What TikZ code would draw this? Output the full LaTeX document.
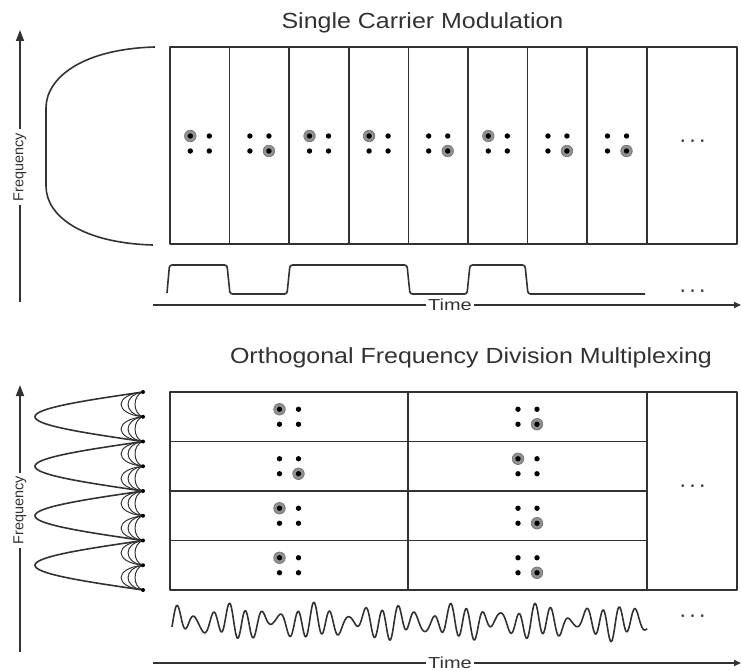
\documentclass[tikz,border=0pt]{standalone}
\usepackage{fontspec}
\setmainfont{Liberation Sans}
\usetikzlibrary{arrows.meta}

\definecolor{ink}{RGB}{50,50,50}
\definecolor{halo}{RGB}{145,145,145}

% 2x2 constellation: centre (#1,#2), highlighted point at offset signs (#3,#4)
\newcommand\constel[4]{%
  \fill[halo, draw=ink!70, line width=0.6bp] ({#1+#3*9.5},{#2+#4*7.5}) circle (5.8);
  \foreach \sx in {-1,1}{\foreach \sy in {-1,1}{%
    \fill[black] ({#1+\sx*9.5},{#2+\sy*7.5}) circle (2.7);}}%
}

\begin{document}
\begin{tikzpicture}[x=1bp,y=-1bp,line join=round,
  frame/.style={draw=ink, line width=1.6bp},
  wave/.style={draw=ink, line width=1.6bp},
  thin/.style={draw=ink, line width=1bp},
  axis/.style={draw=ink, line width=1.6bp, -{Triangle[length=11bp,width=8bp]}},
  taxis/.style={draw=ink, line width=1.6bp, -{Triangle[length=7bp,width=6bp]}},
  title/.style={text=ink, font=\fontsize{22}{26}\selectfont, inner sep=0pt, anchor=base},
  tlabel/.style={text=ink, fill=white, font=\fontsize{16}{19}\selectfont, inner sep=2.5bp},
  flabel/.style={text=ink, fill=white, font=\fontsize{14.5}{17}\selectfont, inner sep=3.5bp, rotate=90},
  more/.style={text=ink, font=\fontsize{16}{18}\selectfont\bfseries, inner sep=0pt}]

\useasboundingbox (0,0) rectangle (741,671);

% ---------------- Single carrier modulation ----------------
\node[title] (sctitle) at (422.5,29) {\scalebox{1.14}[1]{Single Carrier Modulation}};

% frequency axis
\coordinate (fbot1) at (20,302);
\coordinate (ftop1) at (20,30);
\draw[axis] (fbot1) -- node[flabel, pos=0.496] (freq1) {Frequency} (ftop1);

% spectrum of the single wide carrier
\draw[wave] (155,47) .. controls (82,49) and (46,78) .. (46,108) -- (46,186)
  .. controls (46,216) and (82,243) .. (153,245);

% time slots
\draw[frame] (170,47) rectangle (737,244);
\foreach \i in {1,...,8} \draw[frame] ({170+59.6*\i},47) -- ({170+59.6*\i},244);

% one symbol per slot
\foreach \i/\hx/\hy in {0/-1/-1,1/1/1,2/-1/-1,3/-1/-1,4/1/1,5/-1/-1,6/1/1,7/1/1}
  \constel{170+59.6*(\i+0.5)}{143.5}{\hx}{\hy};
\node[more] (sc-more) at (693,143) {· · ·};

% square-ish baseband waveform
\draw[wave, rounded corners=2.5bp] (167,293) -- (169.5,265) -- (227,265) -- (230,294)
  -- (287,294) -- (290,265) -- (407,265) -- (410,294) -- (467,294) -- (470,265)
  -- (525,265) -- (528,294) -- (645,294);
\node[more] (sc-wmore) at (693,293) {· · ·};

% time axis
\coordinate (tl1) at (153,305);
\coordinate (tr1) at (741,305);
\draw[taxis] (tl1) -- node[tlabel, pos=0.505] (time1) {\scalebox{1.25}[1]{Time}} (tr1);

% ---------------- OFDM ----------------
\node[title] (oftitle) at (471,363) {\scalebox{1.14}[1]{Orthogonal Frequency Division Multiplexing}};

\coordinate (fbot2) at (20,652);
\coordinate (ftop2) at (20,385);
\draw[axis] (fbot2) -- node[flabel, pos=0.53] (freq2) {Frequency} (ftop2);

% sub-carrier spectra: main lobes
\foreach \k in {0,...,3}
  \draw[wave] plot[domain=-1:1, samples=61, smooth]
    ({143-108*cos(90*\x)}, {392+49.5*\k+24.75*(\x+1)});
% overlapping side lobes
\foreach \j in {0,...,7}{
  \foreach \d in {8,15,22}{
    \draw[thin] (143,{392+24.75*\j}) .. controls ({143-1.33*\d},{395+24.75*\j})
      and ({143-1.33*\d},{413.75+24.75*\j}) .. (143,{416.75+24.75*\j});
  }
}
\foreach \j in {0,...,8} \fill[black] (143,{392+24.75*\j}) circle (2);

% time/frequency grid
\draw[frame] (170,392) rectangle (737,590);
\draw[frame] (408,392) -- (408,590);
\draw[frame] (647,392) -- (647,590);
\foreach \k in {1,2,3} \draw[frame] (170,{392+49.5*\k}) -- (647,{392+49.5*\k});

\foreach \k/\hx/\hy in {0/-1/-1,1/1/1,2/-1/-1,3/-1/-1}
  \constel{289}{416.75+49.5*\k}{\hx}{\hy};
\foreach \k/\hx/\hy in {0/1/1,1/-1/-1,2/1/1,3/1/1}
  \constel{527.5}{416.75+49.5*\k}{\hx}{\hy};
\node[more] (of-more) at (693,488) {· · ·};

% multicarrier time signal (sum of a few sub-carrier tones)
\draw[wave] plot[domain=0:475, samples=600, smooth]
  ({172+\x}, {622 - (11*sin(21.2*\x-40) + 5*sin(26*\x+10) + 4*sin(8*\x+20))});
\node[more] (of-wmore) at (693,618) {· · ·};

\coordinate (tl2) at (153,663);
\coordinate (tr2) at (741,663);
\draw[taxis] (tl2) -- node[tlabel, pos=0.505] (time2) {\scalebox{1.25}[1]{Time}} (tr2);

\end{tikzpicture}
\end{document}
